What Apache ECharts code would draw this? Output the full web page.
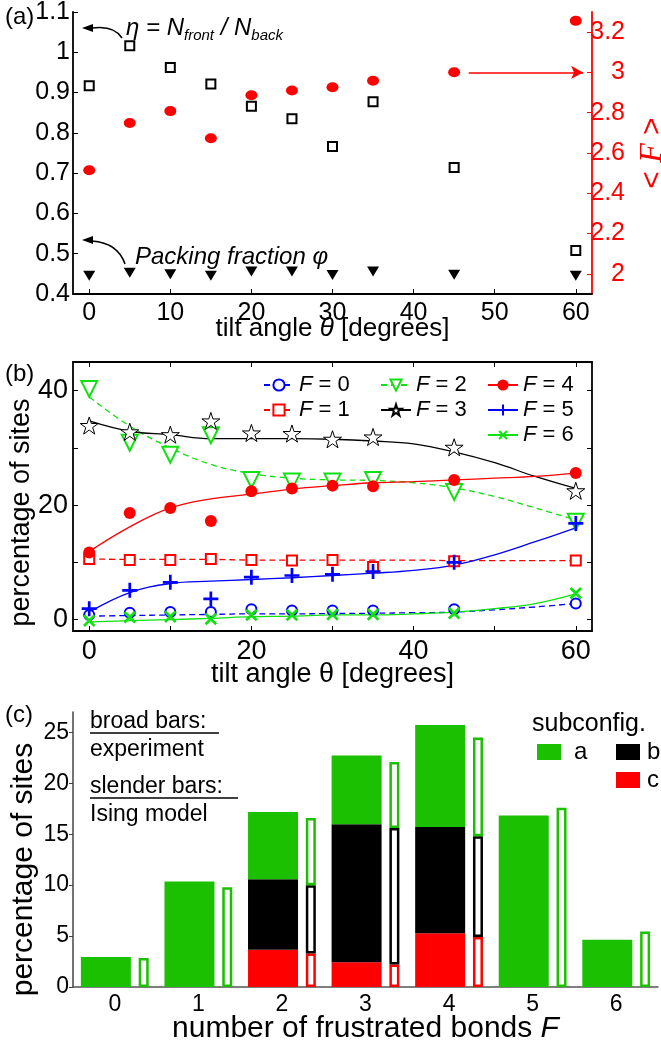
<!DOCTYPE html>
<html>
<head>
<meta charset="utf-8">
<script src="https://cdn.jsdelivr.net/npm/echarts@6/dist/echarts.min.js"></script>
<style>
  html, body { margin: 0; padding: 0; background: #fff; }
  #chart { width: 661px; height: 1044px; }
</style>
</head>
<body>
<div id="chart"></div>
<script>
// ---- panel (a): tilt angle vs eta / packing fraction / <F>
const tiltA = [0, 5, 10, 15, 20, 25, 30, 35, 45, 60];
const etaA = [0.917, 1.016, 0.962, 0.921, 0.866, 0.835, 0.766, 0.877, 0.714, 0.508];
const phiA = [0.445, 0.453, 0.449, 0.445, 0.456, 0.456, 0.447, 0.456, 0.448, 0.445];
const meanF = [2.514, 2.749, 2.808, 2.673, 2.887, 2.910, 2.926, 2.959, 3.001, 3.256];
const leftTicksA = [0.4, 0.5, 0.6, 0.7, 0.8, 0.9, 1, 1.1];
const rightTicksA = [2, 2.2, 2.4, 2.6, 2.8, 3, 3.2];
const tiltTicks = [0, 10, 20, 30, 40, 50, 60];

// ---- panel (b): percentage of sites per F, points + fitted curves
const tiltB = [0, 5, 10, 15, 20, 25, 30, 35, 45, 60];
const fitX = [0, 5, 10, 15, 20, 25, 30, 35, 40, 45, 50, 55, 60];
const pts0 = [0.8, 1.2, 1.3, 1.3, 1.8, 1.6, 1.6, 1.6, 1.8, 2.8];
const fit0 = [0.6, 0.7, 0.8, 0.9, 1.0, 1.0, 1.05, 1.1, 1.2, 1.3, 1.7, 2.2, 2.8];
const pts1 = [10.6, 10.4, 10.4, 10.6, 10.4, 10.3, 10.4, 9.2, 10.2, 10.3];
const fit1 = [10.6, 10.5, 10.5, 10.5, 10.4, 10.4, 10.4, 10.4, 10.4, 10.3, 10.3, 10.3, 10.3];
const pts2 = [40.3, 30.9, 28.8, 32.2, 24.4, 24.1, 24.1, 24.4, 22.3, 17.1];
const fit2 = [38.9, 33.8, 30.0, 27.1, 25.5, 24.7, 24.4, 24.3, 23.9, 23.0, 21.5, 19.5, 17.4];
const pts3 = [33.9, 32.8, 32.3, 34.7, 32.6, 32.5, 31.5, 31.9, 30.1, 22.5];
const fit3 = [34.7, 32.9, 32.3, 31.6, 31.6, 31.6, 31.5, 31.2, 30.7, 29.3, 27.4, 25.0, 22.9];
const pts4 = [11.7, 18.6, 19.5, 17.2, 22.4, 22.9, 23.4, 23.3, 24.4, 25.6];
const fit4 = [11.9, 16.2, 19.5, 21.1, 21.9, 22.8, 23.4, 23.9, 24.1, 24.4, 24.7, 25.0, 25.6];
const pts5 = [1.9, 5.1, 6.5, 3.6, 7.4, 7.7, 7.9, 8.4, 10.0, 16.8];
const fit5 = [1.3, 4.7, 6.3, 6.7, 7.0, 7.3, 7.7, 8.1, 8.6, 9.5, 11.3, 13.6, 16.0];
const pts6 = [-0.2, 0.4, 0.5, 0.1, 0.8, 0.8, 0.9, 0.9, 1.1, 4.6];
const fit6 = [-0.4, -0.2, 0.0, 0.2, 0.5, 0.6, 0.8, 0.8, 1.0, 1.3, 1.9, 2.8, 4.5];
const yTicksB = [0, 10, 20, 30, 40];
const yLabelsB = [0, 20, 40];
const xLabelsB = [0, 20, 40, 60];

// ---- panel (c): histogram of frustrated bonds
const bondCats = ['0', '1', '2', '3', '4', '5', '6'];
const expA = [2.95, 10.35, 6.62, 6.75, 10.01, 16.83, 4.65];
const expB = [null, null, 6.91, 13.55, 10.45, null, null];
const expC = [null, null, 3.66, 2.42, 5.27, null, null];
const isingA = [2.85, 9.8, 6.6, 6.5, 9.7, 17.6, 5.45];
const isingB = [null, null, 6.7, 13.4, 9.9, null, null];
const isingC = [null, null, 3.3, 2.2, 4.9, null, null];
const yTicksC = [0, 5, 10, 15, 20, 25];

const FONT = 'Liberation Sans, Arial, sans-serif';
const RED = '#ff0000';
const BLUE = '#0000ff';
const LGREEN = '#11e011';
const BARGREEN = '#1bc000';
const STAR = 'path://M100,0L122.45,69.1L195.1,69.1L136.3,111.8L158.8,180.9L100,138.2L41.2,180.9L63.7,111.8L4.9,69.1L77.55,69.1Z';
const PLUS = 'path://M8.2,0H11.8V8.2H20V11.8H11.8V20H8.2V11.8H0V8.2H8.2Z';

const pairs = (xs, ys) => xs.map((x, i) => [x, ys[i]]);
const italF = { i: { fontStyle: 'italic', fontFamily: FONT } };

function fitSeries(name, fit, color, dashed, symbol, symbolSize, itemStyle, rotate) {
  return {
    type: 'line', name, xAxisIndex: 1, yAxisIndex: 2,
    data: pairs(fitX, fit), smooth: 0.4, showSymbol: false,
    symbol, symbolSize, symbolRotate: rotate || 0, symbolKeepAspect: true,
    lineStyle: { color, width: 1.3, type: dashed ? [6, 4] : 'solid' },
    itemStyle, z: 2
  };
}
function ptSeries(name, pts, symbol, symbolSize, itemStyle, rotate) {
  return {
    type: 'scatter', name, xAxisIndex: 1, yAxisIndex: 2,
    data: pairs(tiltB, pts), symbol, symbolSize, symbolRotate: rotate || 0,
    symbolKeepAspect: true, itemStyle: Object.assign({ opacity: 1 }, itemStyle), z: 3
  };
}

const st0 = { color: BLUE, borderColor: BLUE, borderWidth: 1.3 };
const st1 = { color: RED, borderColor: RED, borderWidth: 1.3 };
const st2 = { color: LGREEN, borderColor: LGREEN, borderWidth: 1.3 };
const st3 = { color: '#fff', borderColor: '#000', borderWidth: 1 };
const st4 = { color: RED };
const st5 = { color: BLUE };
const st6 = { color: LGREEN };

function frameAxis(extra) {
  return Object.assign({
    axisLine: { show: true, onZero: false, lineStyle: { color: '#000', width: 1.8 } },
    splitLine: { show: false }
  }, extra);
}

const chart = echarts.init(document.getElementById('chart'), null, { renderer: 'canvas' });

chart.setOption({
  animation: false,
  backgroundColor: '#fff',
  textStyle: { fontFamily: FONT },
  grid: [
    { left: 73, right: 69, top: 12, height: 282, containLabel: false, outerBoundsMode: 'none' },
    { left: 73, right: 69, top: 362, height: 269, containLabel: false, outerBoundsMode: 'none',
      show: false },
    { left: 73, right: 3, top: 712, height: 275, containLabel: false, outerBoundsMode: 'none' }
  ],
  legend: [
    { data: ['F = 0', 'F = 1'], orient: 'vertical', left: 263, top: 374, padding: 0, itemGap: 3,
      itemWidth: 30, itemHeight: 14, formatter: n => '{i|F}' + n.slice(1),
      textStyle: { fontSize: 22, color: '#000', rich: italF } },
    { data: ['F = 2', 'F = 3'], orient: 'vertical', left: 380, top: 374, padding: 0, itemGap: 3,
      itemWidth: 30, itemHeight: 14, formatter: n => '{i|F}' + n.slice(1),
      textStyle: { fontSize: 22, color: '#000', rich: italF } },
    { data: ['F = 4', 'F = 5', 'F = 6'], orient: 'vertical', left: 487, top: 374, padding: 0, itemGap: 3,
      itemWidth: 30, itemHeight: 14, formatter: n => '{i|F}' + n.slice(1),
      textStyle: { fontSize: 22, color: '#000', rich: italF } },
    { data: ['a'], icon: 'rect', left: 537, top: 740, padding: 0, itemWidth: 24, itemHeight: 16,
      textStyle: { fontSize: 24, color: '#000', padding: [0, 0, 0, 8] } },
    { data: ['b', 'c'], icon: 'rect', orient: 'vertical', left: 616, top: 740, padding: 0, itemGap: 4,
      itemWidth: 24, itemHeight: 16,
      textStyle: { fontSize: 24, color: '#000', padding: [0, 0, 0, 2] } }
  ],
  xAxis: [
    frameAxis({
      gridIndex: 0, type: 'value', min: -2, max: 62,
      axisTick: { show: true, inside: true, length: 5, customValues: tiltTicks, lineStyle: { color: '#000' } },
      axisLabel: { customValues: tiltTicks, color: '#000', fontSize: 25, margin: 7 },
      name: 'tilt angle {i|θ} [degrees]', nameLocation: 'middle', nameGap: 22, nameMoveOverlap: false,
      nameTextStyle: { fontSize: 26, color: '#000', rich: { i: { fontStyle: 'italic', fontSize: 26 } } }
    }),
    frameAxis({
      gridIndex: 1, type: 'value', min: -2, max: 62,
      axisTick: { show: true, inside: true, length: 5, customValues: tiltTicks, lineStyle: { color: '#000' } },
      axisLabel: { customValues: xLabelsB, color: '#000', fontSize: 27, margin: 7 },
      name: 'tilt angle θ [degrees]', nameLocation: 'middle', nameGap: 30, nameMoveOverlap: false,
      nameTextStyle: { fontSize: 27, color: '#000' }
    }),
    frameAxis({
      gridIndex: 1, type: 'value', min: -2, max: 62, position: 'top',
      axisTick: { show: true, inside: true, length: 5, customValues: tiltTicks, lineStyle: { color: '#000' } },
      axisLabel: { show: false }
    }),
    {
      gridIndex: 2, type: 'category', data: bondCats,
      axisLine: { show: true, lineStyle: { color: '#555', width: 1.5 } },
      axisTick: { show: false },
      axisLabel: { color: '#000', fontSize: 23, margin: 6 },
      splitLine: { show: false },
      name: 'number of frustrated bonds {i|F}', nameLocation: 'middle', nameGap: 27, nameMoveOverlap: false,
      nameTextStyle: { fontSize: 30, color: '#000', rich: { i: { fontStyle: 'italic', fontSize: 30 } } }
    }
  ],
  yAxis: [
    frameAxis({
      gridIndex: 0, type: 'value', min: 0.4, max: 1.1,
      axisTick: { show: true, inside: true, length: 5, customValues: leftTicksA, lineStyle: { color: '#000' } },
      axisLabel: { customValues: leftTicksA, color: '#000', fontSize: 25, margin: 3 }
    }),
    {
      gridIndex: 0, type: 'value', position: 'right', min: 1.9, max: 3.3,
      axisLine: { show: true, onZero: false, lineStyle: { color: RED, width: 1.8 } },
      axisTick: { show: true, inside: true, length: 5, customValues: rightTicksA, lineStyle: { color: RED } },
      axisLabel: { customValues: rightTicksA, color: RED, fontSize: 25, margin: 33, align: 'right' },
      splitLine: { show: false },
      name: '< {f|F} >', nameLocation: 'middle', nameGap: 45, nameMoveOverlap: false,
      nameTextStyle: { fontSize: 30, color: RED,
        rich: { f: { fontStyle: 'italic', fontFamily: 'Liberation Serif, serif', fontSize: 32, color: RED } } }
    },
    frameAxis({
      gridIndex: 1, type: 'value', min: -2, max: 45,
      axisTick: { show: true, inside: true, length: 5, customValues: yTicksB, lineStyle: { color: '#000' } },
      axisLabel: { customValues: yLabelsB, color: '#000', fontSize: 27, margin: 5 },
      name: 'percentage of sites', nameLocation: 'middle', nameGap: 38, nameMoveOverlap: false,
      nameTextStyle: { fontSize: 27, color: '#000', padding: [0, 32, 0, 0] }
    }),
    frameAxis({
      gridIndex: 1, type: 'value', min: -2, max: 45, position: 'right',
      axisTick: { show: true, inside: true, length: 5, customValues: yTicksB, lineStyle: { color: '#000' } },
      axisLabel: { show: false }
    }),
    {
      gridIndex: 2, type: 'value', min: 0, max: 27,
      axisLine: { show: true, onZero: false, lineStyle: { color: '#444', width: 1.5 } },
      axisTick: { show: true, inside: false, length: 4, customValues: yTicksC, lineStyle: { color: '#444' } },
      axisLabel: { customValues: yTicksC, color: '#000', fontSize: 23, margin: 4 },
      splitLine: { show: false },
      name: 'percentage of sites', nameLocation: 'middle', nameGap: 34, nameMoveOverlap: false,
      nameTextStyle: { fontSize: 30, color: '#000', padding: [0, 40, 0, 0] }
    }
  ],
  series: [
    // (a)
    { type: 'scatter', name: 'eta', xAxisIndex: 0, yAxisIndex: 0, data: pairs(tiltA, etaA),
      symbol: 'emptyRect', symbolSize: 9, itemStyle: { color: '#000', borderWidth: 1.3, opacity: 1 } },
    { type: 'scatter', name: 'phi', xAxisIndex: 0, yAxisIndex: 0, data: pairs(tiltA, phiA),
      symbol: 'triangle', symbolRotate: 180, symbolSize: [12, 10], itemStyle: { color: '#000', opacity: 1 } },
    { type: 'scatter', name: '<F>', xAxisIndex: 0, yAxisIndex: 1, data: pairs(tiltA, meanF),
      symbol: 'circle', symbolSize: [12, 10], itemStyle: { color: RED, opacity: 1 },
      markLine: {
        silent: true, symbol: ['none', 'arrow'], symbolSize: [10, 12],
        label: { show: false },
        lineStyle: { color: RED, width: 1.6, type: 'solid' },
        data: [[{ coord: [46.8, 3.0] }, { coord: [60.9, 3.0] }]]
      } },

    // (b) fitted curves
    fitSeries('F = 0', fit0, BLUE, true, 'emptyCircle', 10, st0),
    fitSeries('F = 1', fit1, RED, true, 'emptyRect', 9, st1),
    fitSeries('F = 2', fit2, LGREEN, true, 'emptyTriangle', 14, st2, 180),
    fitSeries('F = 3', fit3, '#000', false, STAR, 15, st3),
    fitSeries('F = 4', fit4, RED, false, 'circle', 12, st4),
    fitSeries('F = 5', fit5, BLUE, false, PLUS, 14, st5),
    fitSeries('F = 6', fit6, LGREEN, false, PLUS, 14, st6, 45),
    // (b) measured points
    ptSeries('F = 0', pts0, 'emptyCircle', 10, st0),
    ptSeries('F = 1', pts1, 'emptyRect', 10, st1),
    ptSeries('F = 2', pts2, 'emptyTriangle', 16, st2, 180),
    ptSeries('F = 3', pts3, STAR, 18, st3),
    ptSeries('F = 4', pts4, 'circle', 12, st4),
    ptSeries('F = 5', pts5, PLUS, 15, st5),
    ptSeries('F = 6', pts6, PLUS, 15, st6, 45),

    // (c) broad bars: experiment
    { type: 'bar', name: 'c', xAxisIndex: 3, yAxisIndex: 4, stack: 'exp', data: expC,
      barWidth: 50, barGap: '15.6%', itemStyle: { color: RED } },
    { type: 'bar', name: 'b', xAxisIndex: 3, yAxisIndex: 4, stack: 'exp', data: expB,
      barWidth: 50, barGap: '15.6%', itemStyle: { color: '#000' } },
    { type: 'bar', name: 'a', xAxisIndex: 3, yAxisIndex: 4, stack: 'exp', data: expA,
      barWidth: 50, barGap: '15.6%', itemStyle: { color: BARGREEN } },
    // (c) slender bars: Ising model
    { type: 'bar', name: 'c', xAxisIndex: 3, yAxisIndex: 4, stack: 'ising', data: isingC,
      barWidth: 10, barGap: '15.6%', itemStyle: { color: '#fff', borderColor: RED, borderWidth: 2.5 } },
    { type: 'bar', name: 'b', xAxisIndex: 3, yAxisIndex: 4, stack: 'ising', data: isingB,
      barWidth: 10, barGap: '15.6%', itemStyle: { color: '#fff', borderColor: '#000', borderWidth: 2.5 } },
    { type: 'bar', name: 'a', xAxisIndex: 3, yAxisIndex: 4, stack: 'ising', data: isingA,
      barWidth: 10, barGap: '15.6%', itemStyle: { color: '#fff', borderColor: BARGREEN, borderWidth: 2.5 } }
  ],
  graphic: [
    // panel labels
    { type: 'text', left: 5, top: 5, style: { text: '(a)', fontSize: 24, fontFamily: FONT, fill: '#000' } },
    { type: 'text', left: 5, top: 362, style: { text: '(b)', fontSize: 24, fontFamily: FONT, fill: '#000' } },
    { type: 'text', left: 5, top: 703, style: { text: '(c)', fontSize: 24, fontFamily: FONT, fill: '#000' } },

    // (a) annotations
    { type: 'text', x: 126, y: 28, style: {
        text: '{m|η = N}{s|front}{m| / N}{s|back}', fill: '#000', verticalAlign: 'middle',
        rich: {
          m: { fontSize: 24, fontStyle: 'italic', fontFamily: FONT, lineHeight: 30, verticalAlign: 'middle' },
          s: { fontSize: 15, fontStyle: 'italic', fontFamily: FONT, lineHeight: 14, verticalAlign: 'bottom' }
        } } },
    { type: 'bezierCurve', shape: { x1: 122, y1: 38, cpx1: 114, cpy1: 25, x2: 92, y2: 28 },
      style: { stroke: '#000', lineWidth: 1.6, fill: null } },
    { type: 'polygon', shape: { points: [[82, 28], [93, 24], [93, 32]] }, style: { fill: '#000' } },
    { type: 'text', x: 135, y: 257, style: {
        text: 'Packing fraction φ', fill: '#000', fontSize: 24, fontStyle: 'italic', fontFamily: FONT,
        verticalAlign: 'middle' } },
    { type: 'bezierCurve', shape: { x1: 125, y1: 264, cpx1: 118, cpy1: 243, x2: 92, y2: 241 },
      style: { stroke: '#000', lineWidth: 1.6, fill: null } },
    { type: 'polygon', shape: { points: [[82, 240], [93, 236], [93, 244]] }, style: { fill: '#000' } },

    // (c) annotations
    { type: 'text', x: 90, y: 722, style: { text: 'broad bars:', fontSize: 23, fontFamily: FONT, fill: '#000', verticalAlign: 'middle' } },
    { type: 'line', shape: { x1: 90, y1: 733, x2: 219, y2: 733 }, style: { stroke: '#000', lineWidth: 1.5 } },
    { type: 'text', x: 90, y: 750, style: { text: 'experiment', fontSize: 23, fontFamily: FONT, fill: '#000', verticalAlign: 'middle' } },
    { type: 'text', x: 90, y: 787, style: { text: 'slender bars:', fontSize: 23, fontFamily: FONT, fill: '#000', verticalAlign: 'middle' } },
    { type: 'line', shape: { x1: 90, y1: 798, x2: 238, y2: 798 }, style: { stroke: '#000', lineWidth: 1.5 } },
    { type: 'text', x: 90, y: 815, style: { text: 'Ising model', fontSize: 23, fontFamily: FONT, fill: '#000', verticalAlign: 'middle' } },
    { type: 'text', x: 532, y: 724, style: { text: 'subconfig.', fontSize: 25, fontFamily: FONT, fill: '#000', verticalAlign: 'middle' } }
  ]
});
</script>
</body>
</html>
